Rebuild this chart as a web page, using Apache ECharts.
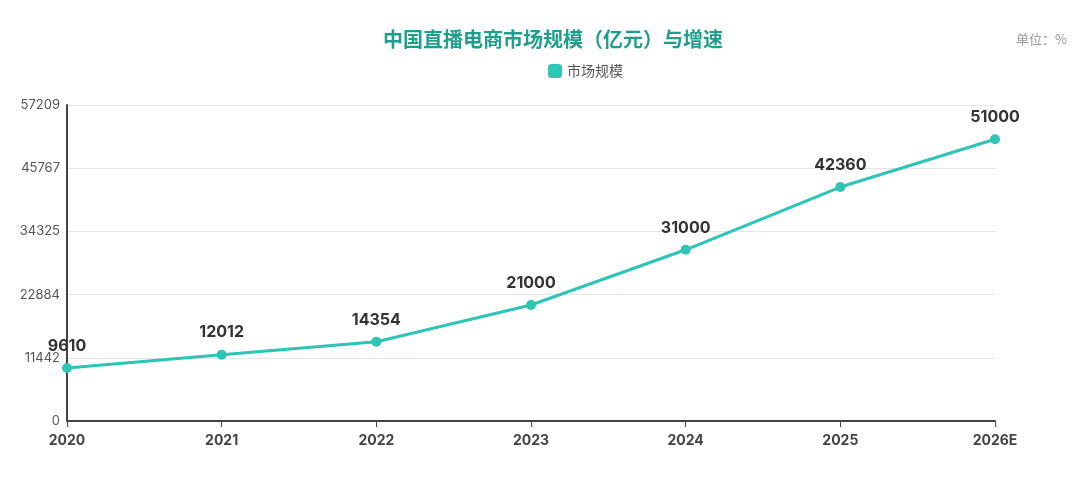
<!DOCTYPE html>
<html>
<head>
<meta charset="utf-8">
<script src="https://cdn.jsdelivr.net/npm/echarts@6/dist/echarts.min.js"></script>
<style>
  html, body { margin: 0; padding: 0; background: #fff; }
  #main { width: 1080px; height: 477px; }
</style>
</head>
<body>
<div id="main"></div>
<script>
// 数据
var years = ['2020', '2021', '2022', '2023', '2024', '2025', '2026E'];
var scaleValues = [9610, 12012, 14354, 21000, 31000, 42360, 51000];
var yMax = 57209;

var myChart = echarts.init(document.getElementById('main'));

var option = {
    textStyle: { fontFamily: 'Inter, "Noto Sans CJK SC", sans-serif' },
    title: {
        text: '中国直播电商市场规模（亿元）与增速',
        left: 378,
        top: 24,
        textStyle: { color: '#1f9e8e', fontSize: 20, fontWeight: 'bold', fontFamily: '"Noto Sans CJK SC", sans-serif' }
    },
    graphic: [{
        type: 'text',
        right: 13,
        top: 33,
        style: { text: '单位：%', fill: '#999', fontSize: 13, fontFamily: '"Noto Sans CJK SC", sans-serif' }
    }],
    legend: {
        data: ['市场规模'],
        left: 543,
        top: 59,
        itemWidth: 14,
        itemHeight: 14,
        icon: 'roundRect',
        textStyle: { color: '#555', fontSize: 14, fontFamily: '"Noto Sans CJK SC", sans-serif' }
    },
    grid: { left: 67, right: 85, top: 105, bottom: 56 },
    xAxis: {
        type: 'category',
        boundaryGap: false,
        data: years,
        axisLine: { lineStyle: { color: '#444', width: 2 } },
        axisTick: { lineStyle: { color: '#444' }, length: 6 },
        axisLabel: { color: '#444', fontSize: 14, fontWeight: 'bold', margin: 13 }
    },
    yAxis: {
        type: 'value',
        min: 0,
        max: yMax,
        interval: yMax / 5,
        axisLine: { show: true, lineStyle: { color: '#444', width: 2 } },
        axisTick: { show: false },
        splitLine: { lineStyle: { color: '#e6e6e6' } },
        axisLabel: {
            color: '#555', fontSize: 13, margin: 7,
            formatter: function (v) { return Math.round(v); }
        }
    },
    series: [{
        name: '市场规模',
        type: 'line',
        data: scaleValues,
        symbol: 'circle',
        symbolSize: 10,
        itemStyle: { color: '#2ec4b6' },
        lineStyle: { color: '#2ec4b6', width: 3 },
        label: {
            show: true,
            position: 'top',
            distance: 9,
            color: '#333',
            fontSize: 16,
            fontWeight: 'bold'
        }
    }]
};

myChart.setOption(option);
</script>
</body>
</html>
